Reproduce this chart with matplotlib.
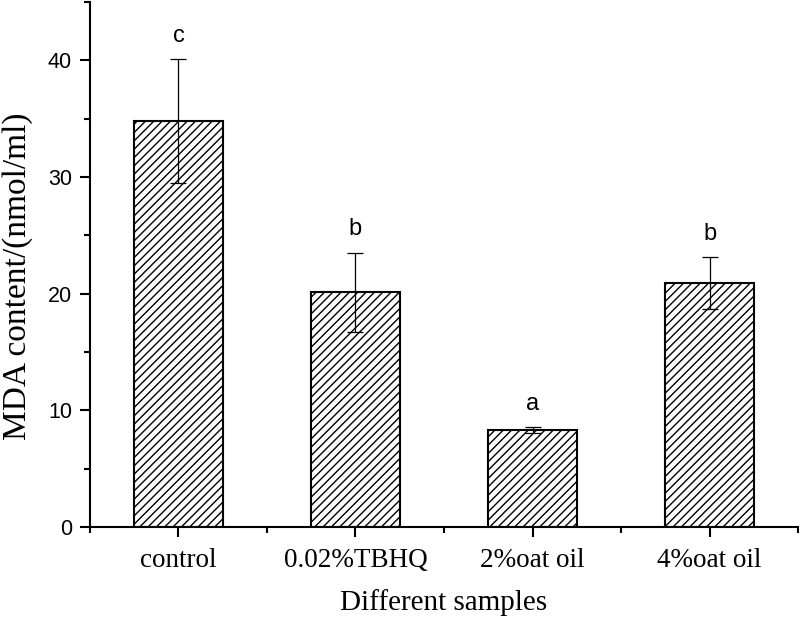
import matplotlib.pyplot as plt
import numpy as np
from matplotlib.ticker import MultipleLocator

# data
samples = ["control", "0.02%TBHQ", "2%oat oil", "4%oat oil"]
mda = [34.8, 20.1, 8.3, 20.9]
err = [5.3, 3.4, 0.25, 2.2]
letters = ["c", "b", "a", "b"]

plt.rcParams['hatch.linewidth'] = 1.0

fig = plt.figure(figsize=(7.99, 6.17), dpi=100)
ax = fig.add_axes([0.1126, 0.1459, 0.8862, 0.8509])

x = np.arange(1, len(samples) + 1)
ax.bar(x, mda, width=0.5, color="white", edgecolor="black", linewidth=1.5, hatch="////")
ax.errorbar(x, mda, yerr=err, fmt="none", ecolor="black", elinewidth=0.9,
            capsize=6, capthick=0.9)

# significance letters just above the error bars
for xi, m, e, t in zip(x, mda, err, letters):
    ax.text(xi, m + e + 1.5, t, ha="center", va="baseline", fontsize=17,
            family="Liberation Sans")

ax.set_xlim(0.5, 4.5)
ax.set_ylim(0, 45)
ax.set_xticks(x)
ax.set_xticklabels(samples, family="Liberation Serif", fontsize=19.5)
ax.xaxis.set_minor_locator(MultipleLocator(1, offset=0.5))
ax.yaxis.set_major_locator(MultipleLocator(10))
ax.yaxis.set_minor_locator(MultipleLocator(5))
for lab in ax.get_yticklabels():
    lab.set_family("Liberation Sans")
    lab.set_fontsize(15.5)

ax.tick_params(which="major", direction="out", length=7, width=1.5)
ax.tick_params(which="minor", direction="out", length=4, width=1.5)
ax.tick_params(axis="x", which="major", pad=8)
ax.tick_params(axis="y", which="major", pad=6)

ax.spines["top"].set_visible(False)
ax.spines["right"].set_visible(False)
ax.spines["left"].set_linewidth(1.5)
ax.spines["bottom"].set_linewidth(1.5)

ax.set_xlabel("Different samples", family="Liberation Serif", fontsize=21, labelpad=12)
ax.set_ylabel("MDA content/(nmol/ml)", family="Liberation Serif", fontsize=24)
ax.yaxis.set_label_coords(-0.08, 0.478)

fig.savefig("out.png", dpi=100)
